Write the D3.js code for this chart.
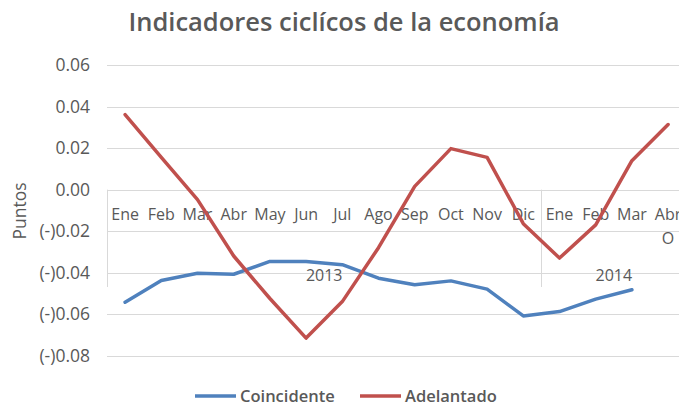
<!DOCTYPE html>
<html><head><meta charset="utf-8">
<script src="https://cdn.jsdelivr.net/npm/d3@7"></script>
<style>body{margin:0;background:#fff;} text{font-family:"Open Sans",Lato,sans-serif;}</style>
</head><body><svg id="c" width="679" height="408"></svg>
<script>
const months = ["Ene","Feb","Mar","Abr","May","Jun","Jul","Ago","Sep","Oct","Nov","Dic","Ene","Feb","Mar","Abr"];
const years = ["2013","2014"];
const yearCounts = [12,4];
const coincidente = [-0.0543,-0.0438,-0.0403,-0.0408,-0.0346,-0.0346,-0.0362,-0.0427,-0.0459,-0.0440,-0.0480,-0.0609,-0.0588,-0.0528,-0.0483,null];
const adelantado = [0.0362,0.0156,-0.0048,-0.0320,-0.0525,-0.0716,-0.0540,-0.0280,0.0016,0.0198,0.0156,-0.0164,-0.0330,-0.0170,0.0140,0.0314];
const yTicks = [0.06,0.04,0.02,0.00,-0.02,-0.04,-0.06,-0.08];

const svg = d3.select("#c");
const grey = "#595959";
const keys = months.map((m,i)=>i);
const x = d3.scaleBand().domain(keys).range([107, 107+16*36.2]).padding(0);
const y = d3.scaleLinear().domain([-0.08,0.06]).range([355.5,65.3]);
const cx = i => x(i)+x.bandwidth()/2;

// gridlines
svg.append("g").selectAll("line").data(yTicks).join("line")
  .attr("x1",107).attr("x2",679).attr("y1",d=>Math.round(y(d))+0.5).attr("y2",d=>Math.round(y(d))+0.5)
  .attr("stroke","#d9d9d9").attr("stroke-width",1);

// y labels
const fmt = d => d<0 ? "(-)"+d3.format(".2f")(-d) : d3.format(".2f")(d);
svg.append("g").selectAll("text").data(yTicks).join("text")
  .attr("x",90).attr("y",d=>y(d)).attr("dy","0.35em").attr("text-anchor","end")
  .attr("font-size",17.5).attr("fill",grey).text(fmt);

// category axis tick separators
const sepIdx = [0,12];
svg.append("g").selectAll("line").data(sepIdx).join("line")
  .attr("x1",d=>Math.round(x(d))+0.5).attr("x2",d=>Math.round(x(d))+0.5)
  .attr("y1",y(0)).attr("y2",287).attr("stroke","#d9d9d9").attr("stroke-width",1);

// month labels
svg.append("g").selectAll("text").data(keys).join("text")
  .attr("x",i=>cx(i)).attr("y",214).attr("dy","0.35em").attr("text-anchor","middle")
  .attr("font-size",16).attr("fill",grey).text(i=>months[i]);
svg.append("text").attr("x",cx(15)).attr("y",238).attr("dy","0.35em").attr("text-anchor","middle")
  .attr("font-size",16).attr("fill",grey).text("O");

// year labels
let start=0;
years.forEach((yr,k)=>{
  const a=x(start), b=x(start+yearCounts[k]-1)+x.bandwidth();
  svg.append("text").attr("x",(a+b)/2).attr("y",275).attr("dy","0.35em").attr("text-anchor","middle")
    .attr("font-size",16).attr("fill",grey).text(yr);
  start+=yearCounts[k];
});

// lines
const line = d3.line().defined(d=>d[1]!==null).x(d=>cx(d[0])).y(d=>y(d[1]));
svg.append("path").datum(coincidente.map((v,i)=>[i,v])).attr("d",line)
  .attr("fill","none").attr("stroke","#4f81bd").attr("stroke-width",3.5).attr("stroke-linejoin","round").attr("stroke-linecap","round");
svg.append("path").datum(adelantado.map((v,i)=>[i,v])).attr("d",line)
  .attr("fill","none").attr("stroke","#c0504d").attr("stroke-width",3.5).attr("stroke-linejoin","round").attr("stroke-linecap","round");

// title
svg.append("text").attr("x",344).attr("y",31).attr("text-anchor","middle")
  .attr("font-size",25.5).attr("font-weight",600).attr("fill",grey).text("Indicadores ciclícos de la economía");

// y axis title
svg.append("text").attr("transform","translate(26,211) rotate(-90)").attr("text-anchor","middle")
  .attr("font-size",17.5).attr("fill",grey).text("Puntos");

// legend
const leg = [["Coincidente","#4f81bd",195],["Adelantado","#c0504d",360]];
leg.forEach(([t,c,x0])=>{
  svg.append("line").attr("x1",x0).attr("x2",x0+41).attr("y1",396).attr("y2",396).attr("stroke",c).attr("stroke-width",3.5);
  svg.append("text").attr("x",x0+45).attr("y",396).attr("dy","0.35em").attr("font-size",16.5).attr("font-weight",600).attr("fill",grey).text(t);
});
</script></body></html>
